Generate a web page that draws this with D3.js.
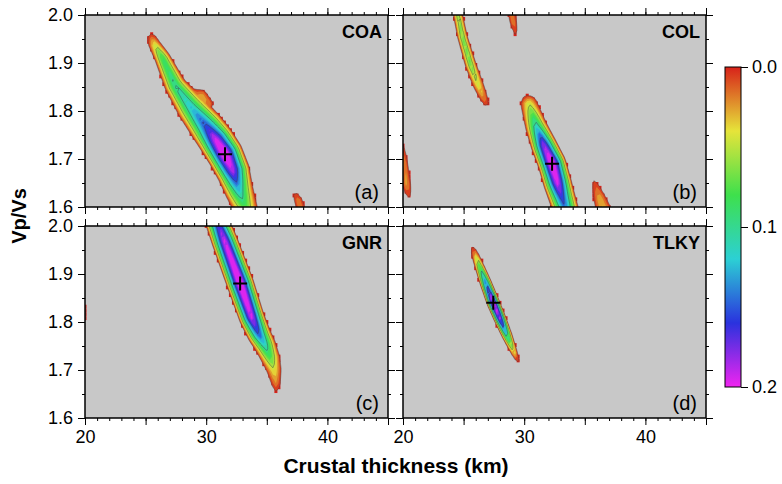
<!DOCTYPE html>
<html>
<head>
<meta charset="utf-8">
<script src="https://cdn.jsdelivr.net/npm/d3@7"></script>
<style>
  body { margin: 0; background: #fff; }
  text { font-family: "Liberation Sans", Arial, Helvetica, sans-serif; }
</style>
</head>
<body>
<svg id="chart" width="782" height="484"></svg>
<script>
// station names and panel letters
var stations = ["COA", "COL", "GNR", "TLKY"];
var panelTags = ["(a)", "(b)", "(c)", "(d)"];

// best crustal thickness (km) and Vp/Vs, marked with "+"
var bestH = [31.55, 32.3, 32.8, 27.45];
var bestK = [1.71, 1.69, 1.88, 1.84];

// stacking ridges, one list of nodes per ridge:
// [thickness km, Vp/Vs, stack amplitude, half width km]
var ridgesCOA = [
  [[25.4, 1.96, 0, 0.45], [25.7, 1.94, 0.045, 0.55], [26.4, 1.91, 0.09, 0.7],
   [27.45, 1.853, 0.105, 0.95], [28.8, 1.806, 0.125, 1.3], [30.0, 1.768, 0.16, 1.5],
   [30.8, 1.74, 0.2, 1.55], [31.55, 1.71, 0.22, 1.55], [32.2, 1.675, 0.19, 1.45],
   [32.7, 1.635, 0.125, 1.25], [33.2, 1.6, 0.08, 1.1], [33.6, 1.57, 0.05, 1.0]],
  [[29.0, 1.842, 0, 0.4], [29.6, 1.833, 0.03, 0.55], [30.2, 1.815, 0.02, 0.5]],
  [[37.3, 1.63, 0, 0.35], [37.6, 1.613, 0.02, 0.45], [37.9, 1.59, 0.02, 0.45]]
];
var ridgesCOL = [
  [[24.3, 2.03, 0.06, 0.42], [24.9, 1.955, 0.075, 0.45], [25.6, 1.895, 0.075, 0.5],
   [26.2, 1.855, 0.05, 0.5], [26.7, 1.825, 0.02, 0.42], [26.95, 1.81, 0, 0.3]],
  [[28.8, 2.03, 0.025, 0.4], [29.1, 1.985, 0.02, 0.38], [29.35, 1.957, 0, 0.3]],
  [[30.2, 1.832, 0, 0.55], [30.4, 1.814, 0.05, 0.78], [31.0, 1.767, 0.12, 0.95],
   [31.6, 1.73, 0.185, 1.1], [32.3, 1.69, 0.22, 1.2], [32.75, 1.65, 0.2, 1.2],
   [33.1, 1.621, 0.165, 1.15], [33.6, 1.58, 0.13, 1.1]],
  [[35.75, 1.655, 0, 0.35], [36.2, 1.62, 0.03, 0.6], [36.6, 1.59, 0.035, 0.8]],
  [[19.85, 1.735, 0, 0.4], [20.05, 1.69, 0.025, 0.45], [20.3, 1.645, 0.025, 0.45], [20.5, 1.62, 0, 0.35]]
];
var ridgesGNR = [
  [[30.5, 2.04, 0.15, 1.0], [31.05, 2.0, 0.175, 1.05], [31.5, 1.97, 0.2, 1.1],
   [32.8, 1.881, 0.22, 1.15], [33.75, 1.81, 0.2, 1.08], [34.35, 1.775, 0.155, 1.02],
   [34.85, 1.752, 0.12, 0.95], [35.3, 1.725, 0.08, 0.85], [35.6, 1.7, 0.045, 0.7],
   [35.75, 1.672, 0.02, 0.5], [35.8, 1.655, 0, 0.35]],
  [[19.85, 1.85, 0, 0.3], [19.9, 1.82, 0.01, 0.3], [19.85, 1.785, 0, 0.3]]
];
var ridgesTLKY = [
  [[25.75, 1.955, 0, 0.3], [26.1, 1.93, 0.06, 0.38], [26.8, 1.883, 0.15, 0.5],
   [27.45, 1.84, 0.22, 0.55], [28.0, 1.807, 0.2, 0.52], [28.6, 1.771, 0.12, 0.45],
   [29.15, 1.738, 0.05, 0.32], [29.5, 1.717, 0, 0.22]]
];
var ridges = [ridgesCOA, ridgesCOL, ridgesGNR, ridgesTLKY];

// axis ticks
var xTicks = [20, 30, 40];
var yTicks = [1.6, 1.7, 1.8, 1.9, 2.0];
var barTicks = [0.0, 0.1, 0.2];

// colour palette (GMT rainbow, red at 0 to magenta at 0.2)
var barLevels = [0.0, 0.04, 0.08, 0.12, 0.16, 0.2];
var barColors = ["#d8221a", "#e6e43a", "#3ee04c", "#2cd0d4", "#2a32de", "#f024f0"];

var svg = d3.select("#chart");
var pw = 303, ph = 192;
var panelX = [85, 403], panelY = [15, 226];

var x = d3.scaleLinear().domain([20, 45]).range([0, pw]);
var y = d3.scaleLinear().domain([1.6, 2.0]).range([ph, 0]);
var color = d3.scaleLinear().domain(barLevels).range(barColors).clamp(true);

// grid on which the stack is sampled
var dH = 0.25, dK = 0.008, H0 = 19.5, K0 = 1.576;
var nx = 105, ny = 57;
var pxPerKm = x(21) - x(20);

function stackField(rs) {
  var values = new Float64Array(nx * ny);
  for (var j = 0; j < ny; j++) {
    for (var i = 0; i < nx; i++) {
      var px = x(H0 + i * dH), py = y(K0 + j * dK);
      var best = -1;
      rs.forEach(function(r) {
        for (var s = 0; s < r.length - 1; s++) {
          var a = r[s], b = r[s + 1];
          var ax = x(a[0]), ay = y(a[1]), bx = x(b[0]), by = y(b[1]);
          var vx = bx - ax, vy = by - ay, L2 = vx * vx + vy * vy;
          var t = Math.max(0, Math.min(1, ((px - ax) * vx + (py - ay) * vy) / L2));
          var qx = ax + t * vx - px, qy = ay + t * vy - py;
          var d = Math.sqrt(qx * qx + qy * qy);
          var amp = a[2] + t * (b[2] - a[2]);
          var hw = (a[3] + t * (b[3] - a[3])) * pxPerKm;
          var v = amp - (amp + 0.01) * Math.pow(d / hw, 1.3);
          if (v > best) best = v;
        }
      });
      values[j * nx + i] = best;
    }
  }
  return values;
}

var toPx = d3.geoTransform({
  point: function(gx, gy) {
    this.stream.point(x(H0 + (gx - 0.5) * dH), y(K0 + (gy - 0.5) * dK));
  }
});
var path = d3.geoPath(toPx);

var cellW = x(20 + dH) - x(20);
var cellH = y(1.6) - y(1.6 + dK);

stations.forEach(function(name, p) {
  var col = p % 2, row = Math.floor(p / 2);
  var g = svg.append("g")
    .attr("transform", "translate(" + panelX[col] + "," + panelY[row] + ")");

  g.append("clipPath").attr("id", "clip" + p)
    .append("rect").attr("width", pw).attr("height", ph);

  g.append("rect")
    .attr("width", pw).attr("height", ph)
    .attr("fill", "#c8c8c8");

  var plot = g.append("g").attr("clip-path", "url(#clip" + p + ")");
  var values = stackField(ridges[p]);

  // low grid cells on the edge of the stack, drawn as red squares
  var rim = [];
  for (var j = 0; j < ny; j++) {
    for (var i = 0; i < nx; i++) {
      var v = values[j * nx + i];
      if (v < 0 || v > 0.014) continue;
      var edge = (i == 0 || values[j * nx + i - 1] < 0) ||
                 (i == nx - 1 || values[j * nx + i + 1] < 0) ||
                 (j == 0 || values[(j - 1) * nx + i] < 0) ||
                 (j == ny - 1 || values[(j + 1) * nx + i] < 0);
      if (edge) rim.push([H0 + i * dH, K0 + j * dK]);
    }
  }
  plot.selectAll("rect.rim")
    .data(rim)
    .enter()
    .append("rect")
    .attr("class", "rim")
    .attr("x", function(d) { return x(d[0]) - cellW / 2; })
    .attr("y", function(d) { return y(d[1]) - cellH / 2; })
    .attr("width", cellW)
    .attr("height", cellH)
    .attr("fill", barColors[0]);

  // filled contour bands
  var bands = d3.contours().size([nx, ny])
    .thresholds(d3.range(0, 0.2, 0.01))(values);
  plot.selectAll("path.band")
    .data(bands)
    .enter()
    .append("path")
    .attr("class", "band")
    .attr("d", path)
    .attr("fill", function(d) { return color(d.value + 0.006); });

  // contour lines
  var lines = d3.contours().size([nx, ny])
    .thresholds([0, 0.05, 0.1, 0.15])(values);
  plot.selectAll("path.line")
    .data(lines)
    .enter()
    .append("path")
    .attr("class", "line")
    .attr("d", path)
    .attr("fill", "none")
    .attr("stroke", "#3c3c3c")
    .attr("stroke-opacity", 0.6)
    .attr("stroke-width", 0.7);

  // best solution
  var cx = x(bestH[p]), cy = y(bestK[p]);
  g.append("path")
    .attr("d", "M" + (cx - 7) + "," + cy + "H" + (cx + 7) + "M" + cx + "," + (cy - 7) + "V" + (cy + 7))
    .attr("stroke", "#000")
    .attr("stroke-width", 2);

  g.append("text")
    .attr("x", pw - 6).attr("y", 23)
    .attr("text-anchor", "end")
    .attr("font-size", 18)
    .attr("font-weight", "bold")
    .text(name);

  g.append("text")
    .attr("x", pw - 9).attr("y", ph - 8)
    .attr("text-anchor", "end")
    .attr("font-size", 20)
    .text(panelTags[p]);

  g.append("rect")
    .attr("width", pw).attr("height", ph)
    .attr("fill", "none")
    .attr("stroke", "#000")
    .attr("stroke-width", 1.5);

  // ticks on all four sides, labels on the outer ones
  var majorX = d3.range(20, 46, 5), minorX = d3.range(20, 46, 1);
  var majorY = yTicks, minorY = d3.range(1.6, 2.001, 0.05);
  var fmtX = function(d) { return row == 1 && xTicks.indexOf(d) >= 0 ? d : ""; };
  var fmtY = function(d) { return col == 0 ? d3.format(".1f")(d) : ""; };

  function axis(a, vals, size, fmt, tr) {
    var ax = g.append("g")
      .attr("transform", tr)
      .call(a.tickValues(vals).tickSize(size).tickSizeOuter(0).tickPadding(5).tickFormat(fmt))
      .attr("font-size", 18)
      .attr("font-family", null);
    ax.select(".domain").remove();
    ax.selectAll("line").attr("stroke", "#000").attr("stroke-width", 1);
    ax.selectAll("text").attr("fill", "#000");
  }
  axis(d3.axisBottom(x), minorX, 3, "", "translate(0," + ph + ")");
  axis(d3.axisBottom(x), majorX, 7, fmtX, "translate(0," + ph + ")");
  axis(d3.axisTop(x), minorX, 3, "", null);
  axis(d3.axisTop(x), majorX, 7, "", null);
  axis(d3.axisLeft(y), minorY, 3, "", null);
  axis(d3.axisLeft(y), majorY, 7, fmtY, null);
  axis(d3.axisRight(y), minorY, 3, "", "translate(" + pw + ",0)");
  axis(d3.axisRight(y), majorY, 7, "", "translate(" + pw + ",0)");
});

// axis titles
svg.append("text")
  .attr("x", 396).attr("y", 473)
  .attr("text-anchor", "middle")
  .attr("font-size", 21)
  .attr("font-weight", "bold")
  .text("Crustal thickness (km)");

svg.append("text")
  .attr("transform", "translate(26,216) rotate(-90)")
  .attr("text-anchor", "middle")
  .attr("font-size", 20)
  .attr("font-weight", "bold")
  .text("Vp/Vs");

// colour bar
var barY = d3.scaleLinear().domain([0, 0.2]).range([67, 387]);
var grad = svg.append("defs").append("linearGradient")
  .attr("id", "bar").attr("x1", 0).attr("y1", 0).attr("x2", 0).attr("y2", 1);
grad.selectAll("stop")
  .data(barLevels)
  .enter()
  .append("stop")
  .attr("offset", function(d) { return d / 0.2; })
  .attr("stop-color", function(d, i) { return barColors[i]; });

svg.append("rect")
  .attr("x", 725).attr("y", barY(0))
  .attr("width", 16).attr("height", barY(0.2) - barY(0))
  .attr("fill", "url(#bar)")
  .attr("stroke", "#000")
  .attr("stroke-width", 1);

var barAxis = svg.append("g")
  .attr("transform", "translate(741,0)")
  .call(d3.axisRight(barY).tickValues(barTicks).tickSize(7).tickPadding(4).tickFormat(d3.format(".1f")))
  .attr("font-size", 18)
  .attr("font-family", null);
barAxis.select(".domain").remove();
barAxis.selectAll("text").attr("fill", "#000");
barAxis.selectAll("line").attr("stroke", "#000");
</script>
</body>
</html>
